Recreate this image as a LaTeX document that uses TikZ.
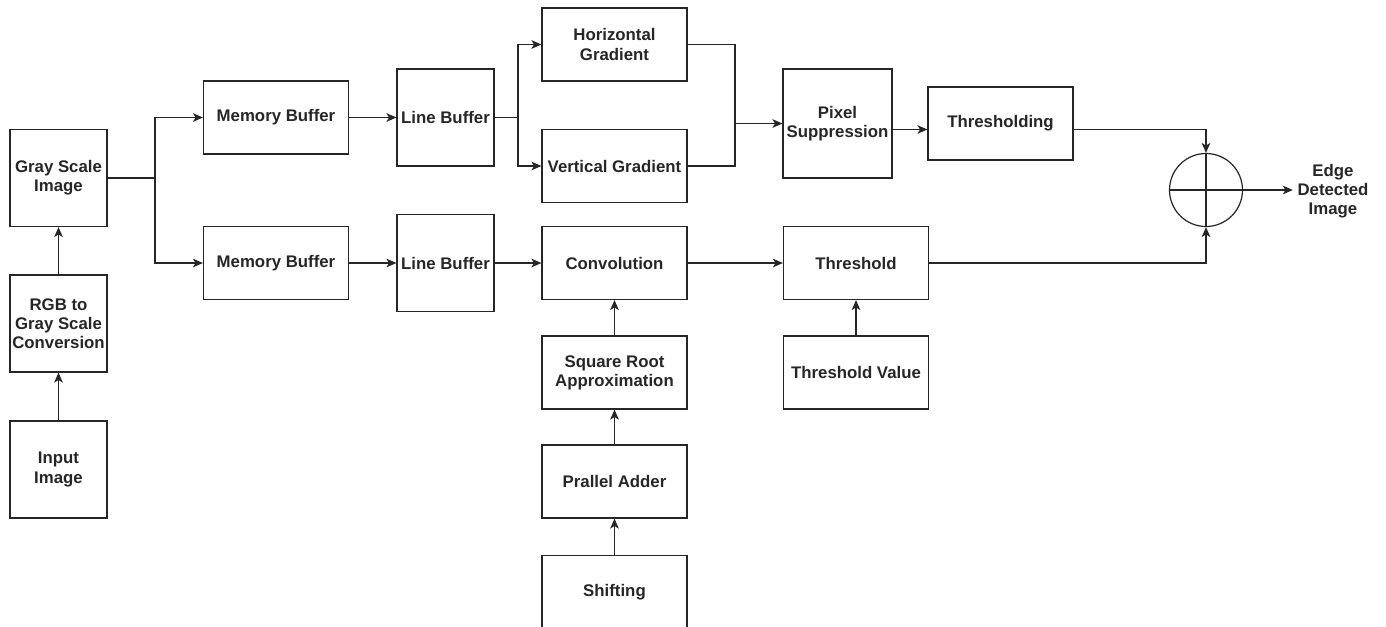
\documentclass[tikz,border=0pt]{standalone}
\usepackage{fontspec}
\setmainfont{Liberation Sans}
\usepackage{tikz}
\usetikzlibrary{arrows.meta,positioning,calc}

\begin{document}
\begin{tikzpicture}[
  x=0.75pt, y=-0.75pt,
  every node/.style={font=\fontsize{12.6}{14.4}\selectfont\bfseries, text=black!85},
  box/.style={draw=black!85, line width=0.9pt, align=center, inner sep=1pt},
  sqbox/.style={box, minimum width=72.75pt, minimum height=72.75pt},
  widebox/.style={box, minimum width=108.75pt, minimum height=54.75pt},
  pixbox/.style={box, minimum width=81.75pt, minimum height=81.75pt},
  line/.style={line width=0.9pt, draw=black!85},
  arrow/.style={line, -{Stealth[length=7.5pt, width=6.5pt, inset=2pt]}}
]
\useasboundingbox (0,0) rectangle (1386,626);
\clip (0,0) rectangle (1386,626);

% left column
\node[sqbox] (input) at (58.5,469.5) {Input\\Image};
\node[sqbox] (rgb) at (58.5,323.5) {RGB to\\Gray Scale\\Conversion};
\node[sqbox] (gray) at (58.5,178) {Gray Scale\\Image};

% buffers
\node[widebox] (memtop) at (276,117.5) {Memory Buffer};
\node[widebox] (membot) at (276,263) {Memory Buffer};
\node[sqbox] (linetop) at (445.5,117.5) {Line Buffer};
\node[sqbox] (linebot) at (445.5,263) {Line Buffer};

% gradients and convolution chain
\node[widebox] (hgrad) at (614.5,44.5) {Horizontal\\Gradient};
\node[widebox] (vgrad) at (614.5,166) {Vertical Gradient};
\node[widebox] (conv) at (614.5,263) {Convolution};
\node[widebox] (sqrt) at (614.5,372.5) {Square Root\\Approximation};
\node[widebox] (adder) at (614.5,481.5) {Prallel Adder};
\node[widebox] (shift) at (614.5,592) {Shifting};

% right part
\node[pixbox] (pixel) at (837.5,123.5) {Pixel\\Suppression};
\node[widebox] (thrsing) at (1000.5,123.5) {Thresholding};
\node[widebox] (thresh) at (856,263) {Threshold};
\node[widebox] (thrval) at (856,372.5) {Threshold Value};
\node[circle, draw=black!85, line width=0.9pt, minimum size=54.75pt, inner sep=0pt] (sum) at (1206,190) {};
\node[align=center] (out) at (1333,191) {Edge\\Detected\\Image};

\coordinate (split) at (155,178);
\coordinate (lsplit) at (518,117.5);
\coordinate (merge) at (735,123.5);

\draw[arrow] (input) -- (rgb);
\draw[arrow] (rgb) -- (gray);
\draw[line] (gray.east) -- (split);
\draw[arrow] (split) |- (memtop.west);
\draw[arrow] (split) |- (membot.west);
\draw[arrow] (memtop) -- (linetop);
\draw[arrow] (membot) -- (linebot);
\draw[line] (linetop.east) -- (lsplit);
\draw[arrow] (lsplit) |- (hgrad.west);
\draw[arrow] (lsplit) |- (vgrad.west);
\draw[arrow] (linebot) -- (conv);
\draw[line] (hgrad.east) -| (merge);
\draw[line] (vgrad.east) -| (merge);
\draw[arrow] (merge) -- (pixel.west);
\draw[arrow] ([yshift=-4.5pt]pixel.east) -- ([yshift=-4.5pt]thrsing.west);
\draw[arrow] (shift) -- (adder);
\draw[arrow] (adder) -- (sqrt);
\draw[arrow] (sqrt) -- (conv);
\draw[arrow] (conv) -- (thresh);
\draw[arrow] (thrval) -- (thresh);
\draw[arrow] ([yshift=-4.5pt]thrsing.east) -| (sum.north);
\draw[arrow] (thresh.east) -| (sum.south);
\draw[line] (sum.north) -- (sum.south);
\draw[line] (sum.west) -- (sum.east);
\draw[arrow] (sum.east) -- (sum.east -| out.west);
\end{tikzpicture}
\end{document}
